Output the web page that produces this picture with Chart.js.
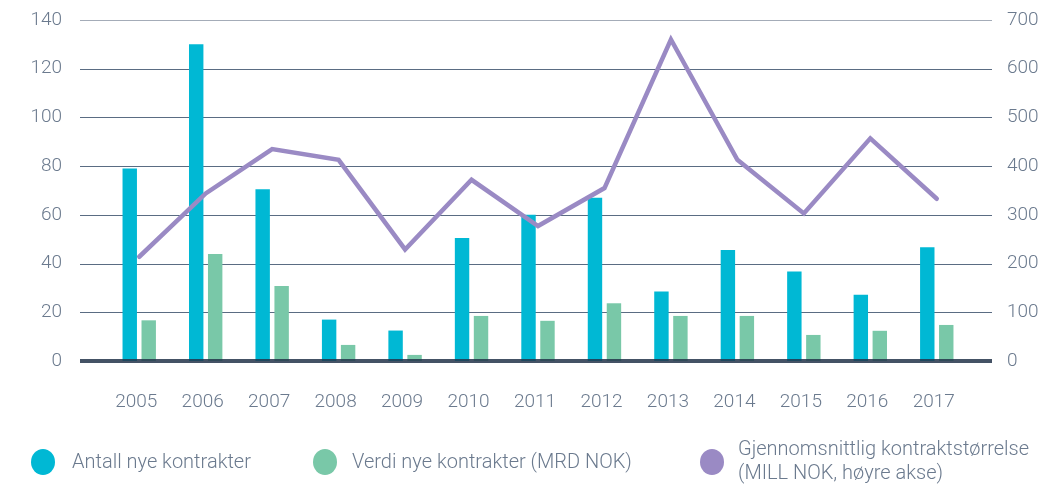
<!DOCTYPE html>
<html><head><meta charset="utf-8">
<script src="https://cdn.jsdelivr.net/npm/chart.js@4/dist/chart.umd.min.js"></script>
<style>html,body{margin:0;padding:0;background:#fff;overflow:hidden}#wrap{width:1055px;height:486px;position:relative}</style>
</head><body><div id="wrap"><canvas id="c" width="1055" height="486"></canvas></div>
<script>
const years = ['2005','2006','2007','2008','2009','2010','2011','2012','2013','2014','2015','2016','2017'];
const antall = [79, 130, 70.5, 17, 12.5, 50.5, 60, 67, 28.5, 45.6, 36.7, 27.2, 46.7];
const verdi = [16.7, 43.9, 30.8, 6.6, 2.5, 18.5, 16.5, 23.7, 18.5, 18.5, 10.7, 12.4, 14.8];
const snitt = [214, 344, 435, 413, 229, 372, 277, 355, 660, 413, 303, 457, 333];
const leftMax = 140, leftStep = 20;
const rightMax = 700, rightStep = 100;
const labels = ['Antall nye kontrakter', 'Verdi nye kontrakter (MRD NOK)', 'Gjennomsnittlig kontraktstørrelse|(MILL NOK, høyre akse)'];
const colors = ['#00b8d4', '#79c8a8', '#9a8ac4'];

const FONT = 'Roboto, "Liberation Sans", sans-serif';
const TICK = '#6b7a8e';

const gridPlugin = {
  id: 'gridPlugin',
  beforeDatasetsDraw(chart) {
    const ctx = chart.ctx, y = chart.scales.y;
    ctx.save();
    y.ticks.forEach(t => {
      if (t.value === 0) return;
      const py = Math.round(y.getPixelForValue(t.value)) + 0.5;
      ctx.strokeStyle = t.value === leftMax ? '#a4acb8' : '#5a6c83';
      ctx.lineWidth = 1.2;
      ctx.beginPath();
      ctx.moveTo(80, py); ctx.lineTo(992, py); ctx.stroke();
    });
    ctx.restore();
  },
  afterDatasetsDraw(chart) {
    const ctx = chart.ctx, y = chart.scales.y;
    const py = y.getPixelForValue(0);
    ctx.save();
    ctx.strokeStyle = 'rgba(35,52,74,0.85)';
    ctx.lineWidth = 4;
    ctx.beginPath(); ctx.moveTo(80, py); ctx.lineTo(992, py); ctx.stroke();
    ctx.restore();
  }
};

const legendPlugin = {
  id: 'legendPlugin',
  afterDraw(chart) {
    const ctx = chart.ctx;
    const pos = [[43, 72], [325, 352], [712, 738]];
    ctx.save();
    ctx.font = '300 20px ' + FONT;
    ctx.textBaseline = 'middle';
    chart.data.datasets.forEach((ds, i) => {
      const [cx, tx] = pos[i];
      ctx.fillStyle = ds.backgroundColor;
      ctx.beginPath(); ctx.ellipse(cx, 462, 12, 13, 0, 0, Math.PI * 2); ctx.fill();
      ctx.fillStyle = TICK;
      const lines = ds.label.split('|');
      if (lines.length === 1) ctx.fillText(lines[0], tx, 463);
      else { ctx.fillText(lines[0], tx, 450); ctx.fillText(lines[1], tx, 474); }
    });
    ctx.restore();
  }
};

function fixV(width) {
  return function (s) { s.width = width; s.paddingTop = 0; s.paddingBottom = 0; };
}

new Chart(document.getElementById('c'), {
  data: {
    labels: years,
    datasets: [
      { type: 'bar', label: labels[0], data: antall, backgroundColor: colors[0], yAxisID: 'y', order: 2,
        categoryPercentage: 0.571, barPercentage: 0.76 },
      { type: 'bar', label: labels[1], data: verdi, backgroundColor: colors[1], yAxisID: 'y', order: 2,
        categoryPercentage: 0.571, barPercentage: 0.76 },
      { type: 'line', label: labels[2], data: snitt, borderColor: colors[2], backgroundColor: colors[2], yAxisID: 'y1', order: 0,
        borderWidth: 4.5, pointRadius: 0, tension: 0, borderCapStyle: 'round', borderJoinStyle: 'miter', fill: false }
    ]
  },
  options: {
    responsive: false,
    animation: false,
    devicePixelRatio: 1,
    layout: { padding: { top: 20, left: 0, right: 0, bottom: 0 } },
    plugins: { legend: { display: false }, tooltip: { enabled: false } },
    scales: {
      x: {
        grid: { display: false, drawTicks: false }, border: { display: false },
        ticks: { color: TICK, font: { family: FONT, size: 19, weight: 300 }, padding: 30, labelOffset: -3, maxRotation: 0 },
        afterFit(s) { s.height = 125; }
      },
      y: {
        position: 'left', min: 0, max: leftMax,
        grid: { display: false, drawTicks: false }, border: { display: false },
        ticks: { stepSize: leftStep, color: TICK, font: { family: FONT, size: 19, weight: 300 }, padding: 44 },
        afterFit: fixV(106)
      },
      y1: {
        position: 'right', min: 0, max: rightMax,
        grid: { display: false, drawTicks: false }, border: { display: false },
        ticks: { stepSize: rightStep, color: TICK, font: { family: FONT, size: 19, weight: 300 }, padding: 37 },
        afterFit: fixV(85)
      }
    }
  },
  plugins: [gridPlugin, legendPlugin]
});
</script></body></html>
